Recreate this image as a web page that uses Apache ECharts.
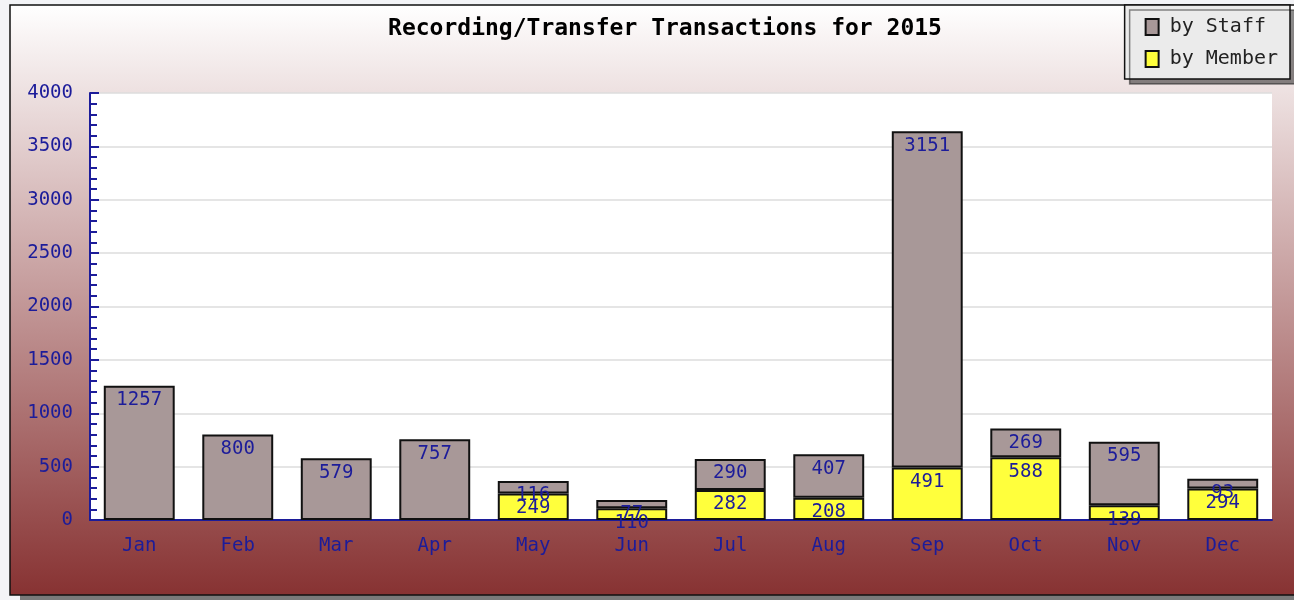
<!DOCTYPE html>
<html>
<head>
<meta charset="utf-8">
<script src="https://cdn.jsdelivr.net/npm/echarts@6/dist/echarts.min.js"></script>
<style>
  html, body { margin: 0; padding: 0; background: #f3f4f7; }
  #vis { width: 1294px; height: 600px; }
</style>
</head>
<body>
<div id="vis"></div>
<script>
// values
const months = ['Jan', 'Feb', 'Mar', 'Apr', 'May', 'Jun', 'Jul', 'Aug', 'Sep', 'Oct', 'Nov', 'Dec']
const byMember = [0, 0, 0, 0, 249, 110, 282, 208, 491, 588, 139, 294]
const byStaff = [1257, 800, 579, 757, 116, 77, 290, 407, 3151, 269, 595, 93]

const mono = 'DejaVu Sans Mono'
const blue = '#1c1c9a'

const labelStyle = {
  show: true,
  position: 'insideTop',
  distance: 5,
  color: blue,
  fontFamily: mono,
  fontSize: 19,
  formatter: p => (p.value ? String(p.value) : '')
}

// no outline for empty segments
const toItems = arr => arr.map(v => (v ? v : { value: 0, itemStyle: { borderWidth: 0 } }))

const option = {
  animation: false,
  graphic: [
    // drop shadow of the frame
    { type: 'rect', z: -20, shape: { x: 20, y: 14, width: 1300, height: 590 }, style: { fill: '#7a7a7a' } },
    // frame with vertical gradient
    {
      type: 'rect',
      z: -10,
      shape: { x: 10, y: 5, width: 1300, height: 590 },
      style: {
        fill: new echarts.graphic.LinearGradient(0, 0, 0, 1, [
          { offset: 0, color: '#ffffff' },
          { offset: 1, color: '#873232' }
        ]),
        stroke: '#111',
        lineWidth: 1.5
      }
    }
  ],
  title: {
    text: 'Recording/Transfer Transactions for 2015',
    left: 660,
    top: 13,
    textAlign: 'center',
    textStyle: { fontFamily: mono, fontWeight: 'bold', fontSize: 23, color: '#000' }
  },
  legend: {
    data: ['by Staff', 'by Member'],
    orient: 'vertical',
    right: 4,
    top: 5,
    padding: [12, 12, 10, 20],
    itemGap: 12,
    itemWidth: 13,
    itemHeight: 16,
    backgroundColor: '#ebebeb',
    borderColor: '#111',
    borderWidth: 1.5,
    borderRadius: 0,
    shadowColor: 'rgba(0,0,0,0.45)',
    shadowOffsetX: 5,
    shadowOffsetY: 5,
    shadowBlur: 0,
    icon: 'rect',
    textStyle: { fontFamily: mono, fontSize: 20, color: '#222', padding: [0, 0, 0, 6] }
  },
  grid: {
    left: 90,
    right: 22,
    top: 93,
    bottom: 80,
    show: true,
    backgroundColor: '#ffffff',
    borderWidth: 0
  },
  xAxis: {
    type: 'category',
    data: months,
    axisLine: { lineStyle: { color: blue, width: 2 } },
    axisTick: { inside: true, length: 9, lineStyle: { color: blue, width: 2 } },
    axisLabel: { color: blue, fontFamily: mono, fontSize: 19, margin: 17 }
  },
  yAxis: {
    type: 'value',
    min: 0,
    max: 4000,
    interval: 500,
    axisLine: { show: true, lineStyle: { color: blue, width: 2 } },
    axisTick: { show: true, inside: true, length: 9, lineStyle: { color: blue, width: 2 } },
    minorTick: { show: true, splitNumber: 5, length: 7, lineStyle: { color: blue, width: 2 } },
    splitLine: { lineStyle: { color: '#dcdcdc', width: 1.5 } },
    axisLabel: { color: blue, fontFamily: mono, fontSize: 19, margin: 17, formatter: v => String(v) }
  },
  series: [
    {
      name: 'by Member',
      type: 'bar',
      stack: 'total',
      barWidth: '72%',
      data: toItems(byMember),
      itemStyle: { color: '#ffff3c', borderColor: '#111', borderWidth: 2 },
      label: labelStyle
    },
    {
      name: 'by Staff',
      type: 'bar',
      stack: 'total',
      barWidth: '72%',
      data: toItems(byStaff),
      itemStyle: { color: '#a89898', borderColor: '#111', borderWidth: 2 },
      label: labelStyle
    }
  ]
}

const chart = echarts.init(document.getElementById('vis'))
chart.setOption(option)
</script>
</body>
</html>
